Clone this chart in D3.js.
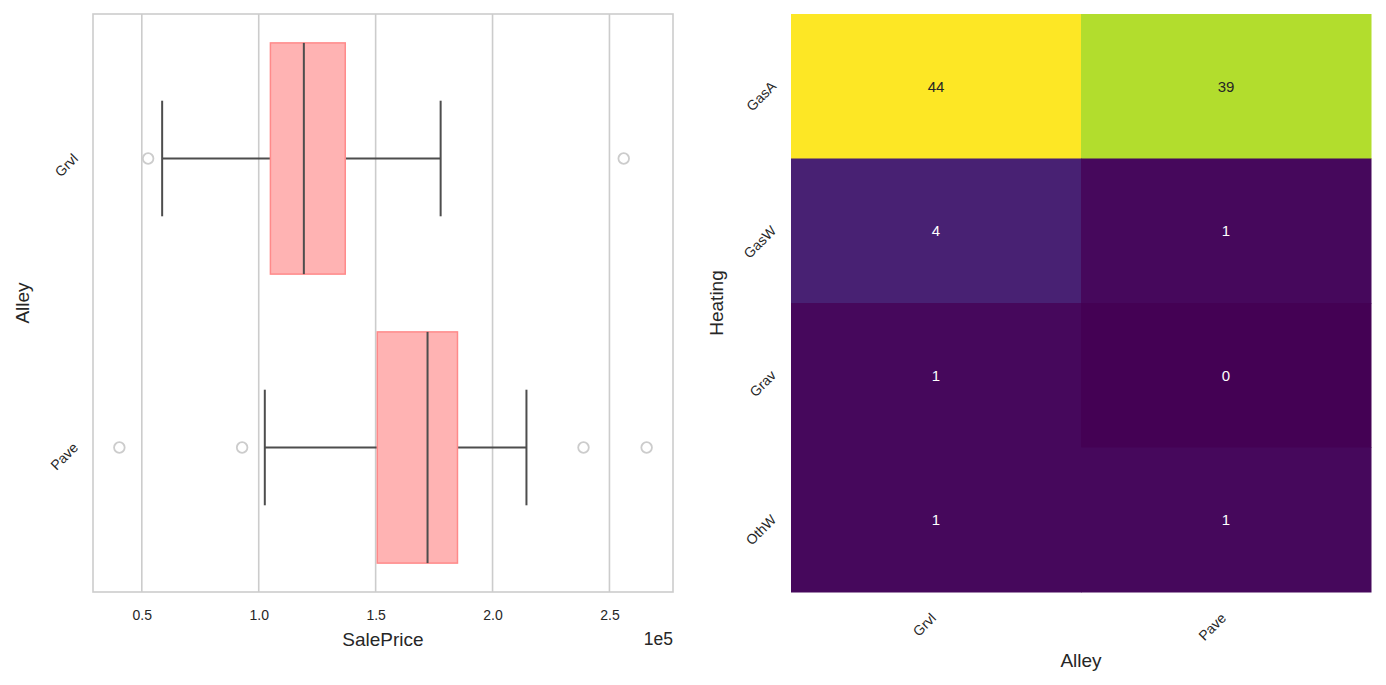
<!DOCTYPE html>
<html>
<head>
<meta charset="utf-8">
<script src="https://cdn.jsdelivr.net/npm/d3@7"></script>
<style>
  body { margin: 0; background: #fff; }
  svg { font-family: "Liberation Sans", Arial, sans-serif; }
</style>
</head>
<body>
<div id="chart"></div>
<script>
// box plot: SalePrice by Alley
const alleyCats = ["Grvl", "Pave"];
const whiskerLo = [58700, 102600];
const q1 = [105000, 150700];
const median = [119300, 172200];
const q3 = [137000, 185000];
const whiskerHi = [177800, 214500];
const outliers = [[52700, 256100], [40400, 92900, 238900, 265900]];
const priceTicks = [50000, 100000, 150000, 200000, 250000];

// heatmap: Heating x Alley counts
const heatingCats = ["GasA", "GasW", "Grav", "OthW"];
const counts = [
  [44, 39],
  [4, 1],
  [1, 0],
  [1, 1]
];

const width = 1386, height = 685;
const textColor = "#262626";

const svg = d3.select("#chart")
  .append("svg")
  .attr("width", width)
  .attr("height", height)
  .attr("viewBox", [0, 0, width, height]);

// ---------- left: boxplot ----------
const m1 = { left: 93, right: 673, top: 14, bottom: 592 };

let allVals = [];
alleyCats.forEach((c, i) => {
  allVals.push(whiskerLo[i], whiskerHi[i], ...outliers[i]);
});
let ext = d3.extent(allVals);
let padV = (ext[1] - ext[0]) * 0.05;

let x = d3.scaleLinear()
  .domain([ext[0] - padV, ext[1] + padV])
  .range([m1.left, m1.right]);

let y = d3.scaleBand()
  .domain(alleyCats)
  .range([m1.top, m1.bottom])
  .padding(0);

const g1 = svg.append("g");

// grid
g1.append("g")
  .selectAll("line")
  .data(priceTicks)
  .join("line")
  .attr("x1", d => x(d)).attr("x2", d => x(d))
  .attr("y1", m1.top).attr("y2", m1.bottom)
  .attr("stroke", "#cccccc")
  .attr("stroke-width", 1.6);

// x axis
const xAxis = g1.append("g")
  .attr("transform", `translate(0,${m1.bottom})`)
  .call(d3.axisBottom(x).tickValues(priceTicks).tickSize(0).tickPadding(0)
    .tickFormat(d => (d / 1e5).toFixed(1)));
xAxis.select(".domain").remove();
xAxis.selectAll("text")
  .attr("y", 28)
  .attr("dy", 0)
  .attr("fill", textColor)
  .attr("font-size", 14);

g1.append("text")
  .attr("x", m1.right)
  .attr("y", 645)
  .attr("text-anchor", "end")
  .attr("fill", textColor)
  .attr("font-size", 17.5)
  .text("1e5");

g1.append("text")
  .attr("x", (m1.left + m1.right) / 2)
  .attr("y", 646)
  .attr("text-anchor", "middle")
  .attr("fill", textColor)
  .attr("font-size", 19)
  .text("SalePrice");

// y axis
const yAxis = g1.append("g")
  .attr("transform", `translate(${m1.left},0)`)
  .call(d3.axisLeft(y).tickSize(0).tickPadding(0));
yAxis.select(".domain").remove();
yAxis.selectAll("text")
  .attr("x", 0).attr("dy", 0)
  .attr("text-anchor", "end")
  .attr("transform", "translate(-14,1) rotate(-45)")
  .attr("fill", textColor)
  .attr("font-size", 14);

g1.append("text")
  .attr("transform", `translate(29,${(m1.top + m1.bottom) / 2}) rotate(-90)`)
  .attr("text-anchor", "middle")
  .attr("fill", textColor)
  .attr("font-size", 19)
  .text("Alley");

// boxes
const bw = y.bandwidth();
const boxes = g1.append("g")
  .selectAll("g")
  .data(alleyCats)
  .join("g")
  .attr("transform", d => `translate(0,${y(d) + bw / 2})`);

boxes.append("line")
  .attr("x1", (d, i) => x(whiskerLo[i])).attr("x2", (d, i) => x(q1[i]))
  .attr("y1", 0).attr("y2", 0)
  .attr("stroke", "#4d4d4d").attr("stroke-width", 2);
boxes.append("line")
  .attr("x1", (d, i) => x(q3[i])).attr("x2", (d, i) => x(whiskerHi[i]))
  .attr("y1", 0).attr("y2", 0)
  .attr("stroke", "#4d4d4d").attr("stroke-width", 2);
boxes.append("line")
  .attr("x1", (d, i) => x(whiskerLo[i])).attr("x2", (d, i) => x(whiskerLo[i]))
  .attr("y1", -bw * 0.2).attr("y2", bw * 0.2)
  .attr("stroke", "#4d4d4d").attr("stroke-width", 2);
boxes.append("line")
  .attr("x1", (d, i) => x(whiskerHi[i])).attr("x2", (d, i) => x(whiskerHi[i]))
  .attr("y1", -bw * 0.2).attr("y2", bw * 0.2)
  .attr("stroke", "#4d4d4d").attr("stroke-width", 2);

boxes.append("rect")
  .attr("x", (d, i) => x(q1[i]))
  .attr("width", (d, i) => x(q3[i]) - x(q1[i]))
  .attr("y", -bw * 0.4)
  .attr("height", bw * 0.8)
  .attr("fill", "#ffb3b3")
  .attr("stroke", "#ff8a8a")
  .attr("stroke-width", 1.5);

boxes.append("line")
  .attr("x1", (d, i) => x(median[i])).attr("x2", (d, i) => x(median[i]))
  .attr("y1", -bw * 0.4).attr("y2", bw * 0.4)
  .attr("stroke", "#4d4d4d").attr("stroke-width", 2);

boxes.selectAll("circle")
  .data((d, i) => outliers[i])
  .join("circle")
  .attr("cx", d => x(d))
  .attr("cy", 0)
  .attr("r", 5.3)
  .attr("fill", "none")
  .attr("stroke", "#cccccc")
  .attr("stroke-width", 1.8);

// frame
g1.append("rect")
  .attr("x", m1.left).attr("y", m1.top)
  .attr("width", m1.right - m1.left).attr("height", m1.bottom - m1.top)
  .attr("fill", "none")
  .attr("stroke", "#cccccc")
  .attr("stroke-width", 1.6);

// ---------- right: heatmap ----------
const m2 = { left: 791, right: 1371, top: 14, bottom: 592 };
const g2 = svg.append("g");

let hx = d3.scaleBand().domain(alleyCats).range([m2.left, m2.right]);
let hy = d3.scaleBand().domain(heatingCats).range([m2.top, m2.bottom]);
let color = d3.scaleSequential(d3.interpolateViridis)
  .domain([0, d3.max(counts.flat())]);

let cells = [];
heatingCats.forEach((h, r) => {
  alleyCats.forEach((a, c) => {
    cells.push({ h, a, v: counts[r][c] });
  });
});

g2.selectAll("rect")
  .data(cells)
  .join("rect")
  .attr("x", d => hx(d.a))
  .attr("y", d => hy(d.h))
  .attr("width", hx.bandwidth() + 0.5)
  .attr("height", hy.bandwidth() + 0.5)
  .attr("fill", d => color(d.v));

g2.selectAll("text.annot")
  .data(cells)
  .join("text")
  .attr("class", "annot")
  .attr("x", d => hx(d.a) + hx.bandwidth() / 2)
  .attr("y", d => hy(d.h) + hy.bandwidth() / 2)
  .attr("dy", "0.35em")
  .attr("text-anchor", "middle")
  .attr("font-size", 15)
  .attr("fill", d => d3.hsl(color(d.v)).l > 0.45 ? textColor : "#ffffff")
  .text(d => d.v);

const hxAxis = g2.append("g")
  .attr("transform", `translate(0,${m2.bottom})`)
  .call(d3.axisBottom(hx).tickSize(0).tickPadding(0));
hxAxis.select(".domain").remove();
hxAxis.selectAll("text")
  .attr("y", 0).attr("dy", 0)
  .attr("text-anchor", "end")
  .attr("transform", "translate(1,27) rotate(-45)")
  .attr("fill", textColor)
  .attr("font-size", 14);

const hyAxis = g2.append("g")
  .attr("transform", `translate(${m2.left},0)`)
  .call(d3.axisLeft(hy).tickSize(0).tickPadding(0));
hyAxis.select(".domain").remove();
hyAxis.selectAll("text")
  .attr("x", 0).attr("dy", 0)
  .attr("text-anchor", "end")
  .attr("transform", "translate(-14,1) rotate(-45)")
  .attr("fill", textColor)
  .attr("font-size", 14);

g2.append("text")
  .attr("x", (m2.left + m2.right) / 2)
  .attr("y", 667)
  .attr("text-anchor", "middle")
  .attr("fill", textColor)
  .attr("font-size", 19)
  .text("Alley");

g2.append("text")
  .attr("transform", `translate(723,${(m2.top + m2.bottom) / 2}) rotate(-90)`)
  .attr("text-anchor", "middle")
  .attr("fill", textColor)
  .attr("font-size", 19)
  .text("Heating");
</script>
</body>
</html>
